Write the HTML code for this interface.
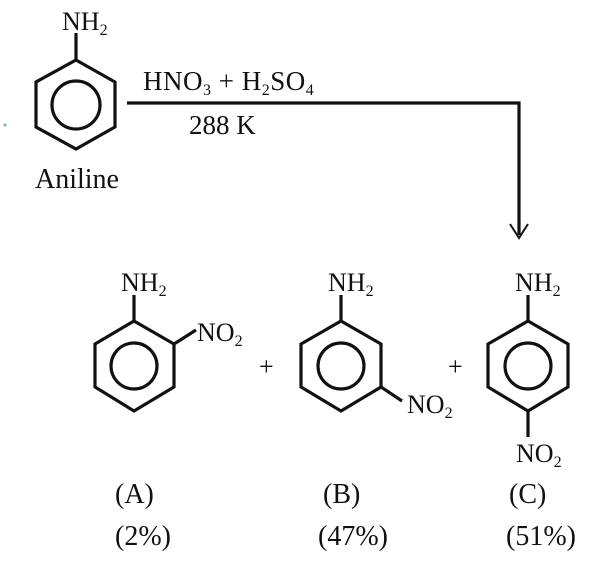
<!DOCTYPE html>
<html><head><style>html,body{margin:0;padding:0;background:#fff}</style></head><body>
<svg width="606" height="558" viewBox="0 0 606 558" xmlns="http://www.w3.org/2000/svg" font-family="Liberation Serif, serif" fill="#111">
<g stroke="#111" stroke-width="3.2" fill="none">
<polygon points="76,60 115,82 115,127 76,149 36,127 36,82"/>
<circle cx="76" cy="105" r="24"/>
<line x1="76" y1="60" x2="76" y2="33"/>
<polyline points="127,103 519,103 519,235"/>
<polyline points="510,224 519,238 528,224" stroke-width="2"/>
<polygon points="134,321 174,344 174,387 134,411 95,387 95,344"/>
<circle cx="134" cy="366" r="23"/>
<line x1="134" y1="321" x2="134" y2="295"/>
<line x1="174" y1="344" x2="196" y2="330"/>
<polygon points="341,321 381,344 381,387 341,411 301,387 301,344"/>
<circle cx="341" cy="366" r="23"/>
<line x1="341" y1="321" x2="341" y2="295"/>
<line x1="381" y1="387" x2="402" y2="401"/>
<polygon points="528,321 568,344 568,387 528,411 488,387 488,344"/>
<circle cx="528" cy="366" r="23"/>
<line x1="528" y1="321" x2="528" y2="295"/>
<line x1="528" y1="411" x2="528" y2="437"/>
</g>
<circle cx="5" cy="125" r="1.5" fill="#7ab"/>
<g font-size="26">
<text x="62" y="30">NH<tspan font-size="16" dy="5">2</tspan></text>
<text x="121" y="291">NH<tspan font-size="16" dy="5">2</tspan></text>
<text x="328" y="291">NH<tspan font-size="16" dy="5">2</tspan></text>
<text x="515" y="291">NH<tspan font-size="16" dy="5">2</tspan></text>
<text x="197" y="341">NO<tspan font-size="16" dy="5">2</tspan></text>
<text x="407" y="413">NO<tspan font-size="16" dy="5">2</tspan></text>
<text x="516" y="462">NO<tspan font-size="16" dy="5">2</tspan></text>
<text x="143" y="90" font-size="27" letter-spacing="0.5">HNO<tspan font-size="16" dy="5">3</tspan><tspan dy="-5"> + H</tspan><tspan font-size="16" dy="5">2</tspan><tspan dy="-5">SO</tspan><tspan font-size="16" dy="5">4</tspan></text>
<text x="189" y="134" font-size="27">288 K</text>
<text x="259" y="375">+</text>
<text x="448" y="375">+</text>
</g>
<g font-size="28">
<text x="35" y="188">Aniline</text>
<text x="115" y="503">(A)</text>
<text x="323" y="503">(B)</text>
<text x="509" y="503">(C)</text>
<text x="115" y="545">(2%)</text>
<text x="318" y="545">(47%)</text>
<text x="506" y="545">(51%)</text>
</g>
</svg>
</body></html>
